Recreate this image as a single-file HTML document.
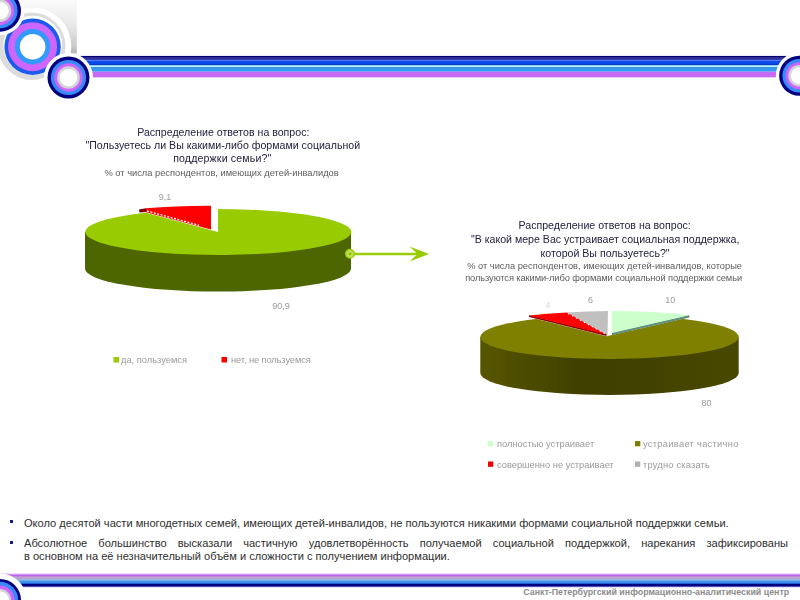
<!DOCTYPE html>
<html lang="ru">
<head>
<meta charset="utf-8">
<title>Слайд</title>
<style>
html,body{margin:0;padding:0;background:#fff;}
body{width:800px;height:600px;position:relative;overflow:hidden;font-family:"Liberation Sans",sans-serif;}
#bg{position:absolute;left:0;top:0;width:800px;height:600px;}
.t{position:absolute;white-space:nowrap;text-align:center;font-family:"Liberation Sans",sans-serif;filter:blur(0.35px);}
.ct{color:#22223f;font-size:10.6px;line-height:13px;}
.cs{color:#5c5c5c;font-size:9.3px;line-height:13px;}
.lg{color:#9a9a9a;font-size:9.3px;line-height:10px;text-align:left;}
.dl{color:#9a9a9a;font-size:9px;line-height:10px;}
#bul{position:absolute;left:24px;top:516.5px;width:764px;font-size:11.08px;line-height:13px;color:#2e2e2e;}
#bul p{margin:0;text-align:justify;}
.sq{position:absolute;width:3px;height:3px;background:#1a1a80;left:10px;}
#foot{position:absolute;left:523.3px;top:587px;font-size:8.85px;font-weight:bold;color:#8c8c8c;white-space:nowrap;}
</style>
</head>
<body>
<svg id="bg" width="800" height="600" viewBox="0 0 800 600">
  <defs>
    <linearGradient id="gr" x1="0" y1="0" x2="0" y2="1">
      <stop offset="0" stop-color="#fbfbfb"/>
      <stop offset="0.5" stop-color="#e6e6e6"/>
      <stop offset="0.85" stop-color="#cccccc"/>
      <stop offset="1" stop-color="#b4b4b4"/>
    </linearGradient>
    <g id="ring">
      <circle r="24.5" fill="#fff"/>
      <circle r="21" fill="#000080"/>
      <circle r="17.6" fill="#3a8af5"/>
      <circle r="14.2" fill="#cc66ff"/>
      <circle r="11.3" fill="#d4d4d4"/>
      <circle r="8.8" fill="#fff"/>
    </g>
    <filter id="bl" x="-5%" y="-20%" width="110%" height="140%"><feGaussianBlur stdDeviation="0.5"/></filter>
  </defs>

  <!-- top-left decoration -->
  <rect x="0" y="0" width="76.8" height="53.5" fill="url(#gr)"/>
  <circle cx="32.6" cy="46.2" r="38.7" fill="#fff"/>
  <circle cx="31.75" cy="46.25" r="33.75" fill="#dcdcdc"/>
  <circle cx="32.75" cy="45.25" r="29.4" fill="#fff"/>
  <circle cx="32.6" cy="46.7" r="28.2" fill="#1a5aee"/>
  <circle cx="32.6" cy="46.7" r="24.5" fill="#cc66ff"/>
  <circle cx="32.6" cy="46.7" r="17.7" fill="#3399ff"/>
  <circle cx="32.6" cy="46.7" r="12.8" fill="#fff"/>

  <!-- top stripes -->
  <g shape-rendering="crispEdges">
    <rect x="80" y="55" width="720" height="1" fill="#ececf6"/>
    <rect x="80" y="56" width="720" height="1" fill="#000068"/>
    <rect x="80" y="57" width="720" height="1" fill="#2a2a98"/>
    <rect x="80" y="58" width="720" height="1" fill="#3333a0"/>
    <rect x="80" y="59" width="720" height="1" fill="#3838a8"/>
    <rect x="80" y="60" width="720" height="1" fill="#4878f8"/>
    <rect x="80" y="61" width="720" height="1" fill="#1050e8"/>
    <rect x="80" y="62" width="720" height="1" fill="#0848e8"/>
    <rect x="80" y="63" width="720" height="1" fill="#0848e8"/>
    <rect x="80" y="64" width="720" height="1" fill="#0838c0"/>
    <rect x="80" y="65" width="720" height="1" fill="#90d0f8"/>
    <rect x="80" y="66" width="720" height="1" fill="#b0f0ff"/>
    <rect x="80" y="67" width="720" height="1" fill="#4090d8"/>
    <rect x="80" y="68" width="720" height="1" fill="#3898f0"/>
    <rect x="80" y="69" width="720" height="1" fill="#3898f0"/>
    <rect x="80" y="70" width="720" height="1" fill="#3898f0"/>
    <rect x="80" y="71" width="720" height="1" fill="#88a0f8"/>
    <rect x="80" y="72" width="720" height="1" fill="#c070f8"/>
    <rect x="80" y="73" width="720" height="1" fill="#c868f8"/>
    <rect x="80" y="74" width="720" height="1" fill="#c868f8"/>
    <rect x="80" y="75" width="720" height="1" fill="#c868f8"/>
    <rect x="80" y="76" width="720" height="1" fill="#c468f4"/>
    <rect x="80" y="77" width="720" height="1" fill="#ecc8fc"/>
  </g>
  <use href="#ring" x="0" y="10.7"/>
  <use href="#ring" x="68.5" y="77.5"/>
  <use href="#ring" transform="translate(799.2,75.7) scale(0.955)"/>

  <!-- bottom stripes -->
  <g shape-rendering="crispEdges">
    <rect x="0" y="573" width="800" height="1" fill="#f5d8ff"/>
    <rect x="0" y="574" width="800" height="1" fill="#d890f8"/>
    <rect x="0" y="575" width="800" height="1" fill="#b868e0"/>
    <rect x="0" y="576" width="800" height="1" fill="#c088d8"/>
    <rect x="0" y="577" width="800" height="1" fill="#c0a0d0"/>
    <rect x="0" y="578" width="800" height="1" fill="#b0a8c8"/>
    <rect x="0" y="579" width="800" height="1" fill="#a0b0d8"/>
    <rect x="0" y="580" width="800" height="1" fill="#70b0f0"/>
    <rect x="0" y="581" width="800" height="1" fill="#4090f0"/>
    <rect x="0" y="582" width="800" height="1" fill="#3a8af0"/>
    <rect x="0" y="583" width="800" height="1" fill="#2060d0"/>
    <rect x="0" y="584" width="800" height="1" fill="#000080"/>
    <rect x="0" y="585" width="800" height="1" fill="#000080"/>
    <rect x="0" y="586" width="800" height="1" fill="#5050b0"/>
    <rect x="0" y="587" width="800" height="1" fill="#e4e4fa"/>
  </g>
  <g>
    <circle cx="0" cy="600" r="26.5" fill="#fff"/>
    <circle cx="0" cy="600" r="21" fill="#000080"/>
    <circle cx="0" cy="600" r="18.2" fill="#3a8af5"/>
    <circle cx="0" cy="600" r="14.5" fill="#cc66ff"/>
    <circle cx="0" cy="600" r="11" fill="#d4d4d4"/>
    <circle cx="0" cy="600" r="8.8" fill="#fff"/>
  </g>

  <!-- chart 1 -->
  <g filter="url(#bl)">
    <!-- side -->
    <path d="M85,232 L351,232 L351,268.6 A133,23 0 0 1 85,268.6 Z" fill="#4d6600"/>
    <!-- top -->
    <path d="M218,232 L218,209 A133,23 0 1 1 146,212.7 Z" fill="#99cc00"/>
    <!-- red slice -->
    <path d="M139,209.5 L146,208.3 L146,212 L139.5,212.5 Z" fill="#800000"/>
    <path d="M211,229.6 L211,205.7 A133,23 0 0 0 146,208.3 L146,212.3 Z" fill="#ff0000"/>
    <path d="M147,211 L199,225.3" stroke="#fff" stroke-width="1.3" stroke-dasharray="2,1.5" fill="none"/>
    <!-- arrow -->
    <line x1="354" y1="254" x2="418" y2="254" stroke="#9ccd08" stroke-width="2.7"/>
    <polygon points="429,254 409.5,246.5 417.5,254 409.5,261.5" fill="#99cc00"/>
    <circle cx="350" cy="253.8" r="4.3" fill="#bfe25a" stroke="#99cc00" stroke-width="1.4"/>
    <circle cx="350" cy="253.8" r="1.6" fill="#8fc000"/>
  </g>
  <!-- legend 1 -->
  <rect x="113.5" y="357" width="5.5" height="5.5" fill="#99cc00"/>
  <rect x="221.5" y="357" width="5.5" height="5.5" fill="#ff0000"/>

  <!-- chart 2 -->
  <g filter="url(#bl)">
    <defs>
      <linearGradient id="ol" x1="0" y1="0" x2="1" y2="0">
        <stop offset="0" stop-color="#565600"/>
        <stop offset="0.4" stop-color="#404000"/>
        <stop offset="1" stop-color="#474700"/>
      </linearGradient>
    </defs>
    <path d="M480.3,337 L738.7,337 L738.7,373 A129.2,22 0 0 1 480.3,373 Z" fill="url(#ol)"/>
    <ellipse cx="609.5" cy="337" rx="129.2" ry="22" fill="#808000"/>
    <!-- white cut-out behind slices -->
    <path d="M606.5,336.3 L528,317 L528,308 L693,308 L689.5,317.3 L612,335 Z" fill="#fff"/>
    <!-- light green slice -->
    <path d="M612,335.2 L689.5,317.6 L689,315 L612,332.6 Z" fill="#64907a"/>
    <path d="M612,333 L612,311 A130,22 0 0 1 689,315.2 Z" fill="#ccffcc"/>
    <!-- gray slice -->
    <path d="M607.5,335 L608,311 A130,22 0 0 0 567,312.5 Z" fill="#c0c0c0"/>
    <!-- red slice -->
    <path d="M606.5,336 L529,317 L529,315.2 L606.5,334 Z" fill="#900000"/>
    <path d="M606.5,334.5 L567,312.5 A130,22 0 0 0 529,315.5 Z" fill="#ff0000"/>
    <path d="M568,313.5 L605,333.5" stroke="#fff" stroke-width="1.1" stroke-dasharray="1.5,3" fill="none"/>
  </g>
  <!-- legend 2 -->
  <rect x="488" y="441" width="5.3" height="5.3" fill="#ccffcc"/>
  <rect x="635" y="441" width="5.3" height="5.3" fill="#808000"/>
  <rect x="488" y="461.5" width="5.3" height="5.3" fill="#ee0000"/>
  <rect x="635" y="461.5" width="5.3" height="5.3" fill="#b0b0b0"/>
</svg>

<!-- chart 1 title -->
<div class="t ct" style="left:73.3px;top:125.6px;width:300px;">Распределение ответов на вопрос:</div>
<div class="t ct" style="left:72.8px;top:139px;width:300px;">"Пользуетесь ли Вы какими-либо формами социальной</div>
<div class="t ct" style="left:72.3px;top:151.5px;width:300px;letter-spacing:0.15px;">поддержки семьи?"</div>
<div class="t cs" style="left:71.6px;top:166.6px;width:300px;">% от числа респондентов, имеющих детей-инвалидов</div>
<div class="t dl" style="left:155px;top:192px;width:20px;">9,1</div>
<div class="t dl" style="left:271px;top:301.2px;width:20px;">90,9</div>
<div class="t lg" style="left:121px;top:355px;">да, пользуемся</div>
<div class="t lg" style="left:231px;top:355px;letter-spacing:-0.1px;">нет, не пользуемся</div>

<!-- chart 2 title -->
<div class="t ct" style="left:454.7px;top:218.9px;width:300px;">Распределение ответов на вопрос:</div>
<div class="t ct" style="left:455.2px;top:232.8px;width:300px;">"В какой мере Вас устраивает социальная поддержка,</div>
<div class="t ct" style="left:455.1px;top:247.2px;width:300px;">которой Вы пользуетесь?"</div>
<div class="t cs" style="left:454.6px;top:260.1px;width:300px;">% от числа респондентов, имеющих детей-инвалидов, которые</div>
<div class="t cs" style="left:453.6px;top:272.1px;width:300px;letter-spacing:-0.1px;">пользуются какими-либо формами социальной поддержки семьи</div>
<div class="t dl" style="left:580.5px;top:295.2px;width:20px;">6</div>
<div class="t dl" style="left:660.2px;top:294.5px;width:20px;">10</div>
<div class="t dl" style="left:538px;top:300px;width:20px;color:#d8d8d8;">4</div>
<div class="t dl" style="left:696.5px;top:398px;width:20px;">80</div>
<div class="t lg" style="left:497px;top:439px;">полностью устраивает</div>
<div class="t lg" style="left:643px;top:439px;letter-spacing:0.3px;">устраивает частично</div>
<div class="t lg" style="left:497px;top:459.5px;">совершенно не устраивает</div>
<div class="t lg" style="left:643px;top:459.5px;letter-spacing:0.2px;">трудно сказать</div>

<!-- bullets -->
<div class="sq" style="top:520.2px;"></div>
<div class="sq" style="top:540.7px;"></div>
<div id="bul">
  <p style="margin-bottom:7px;text-align:left;">Около десятой части многодетных семей, имеющих детей-инвалидов, не пользуются никакими формами социальной поддержки семьи.</p>
  <p style="text-align-last:justify;">Абсолютное большинство высказали частичную удовлетворённость получаемой социальной поддержкой, нарекания зафиксированы</p>
  <p style="text-align:left;">в основном на её незначительный объём и сложности с получением информации.</p>
</div>
<div id="foot">Санкт-Петербургский информационно-аналитический центр</div>
</body>
</html>
